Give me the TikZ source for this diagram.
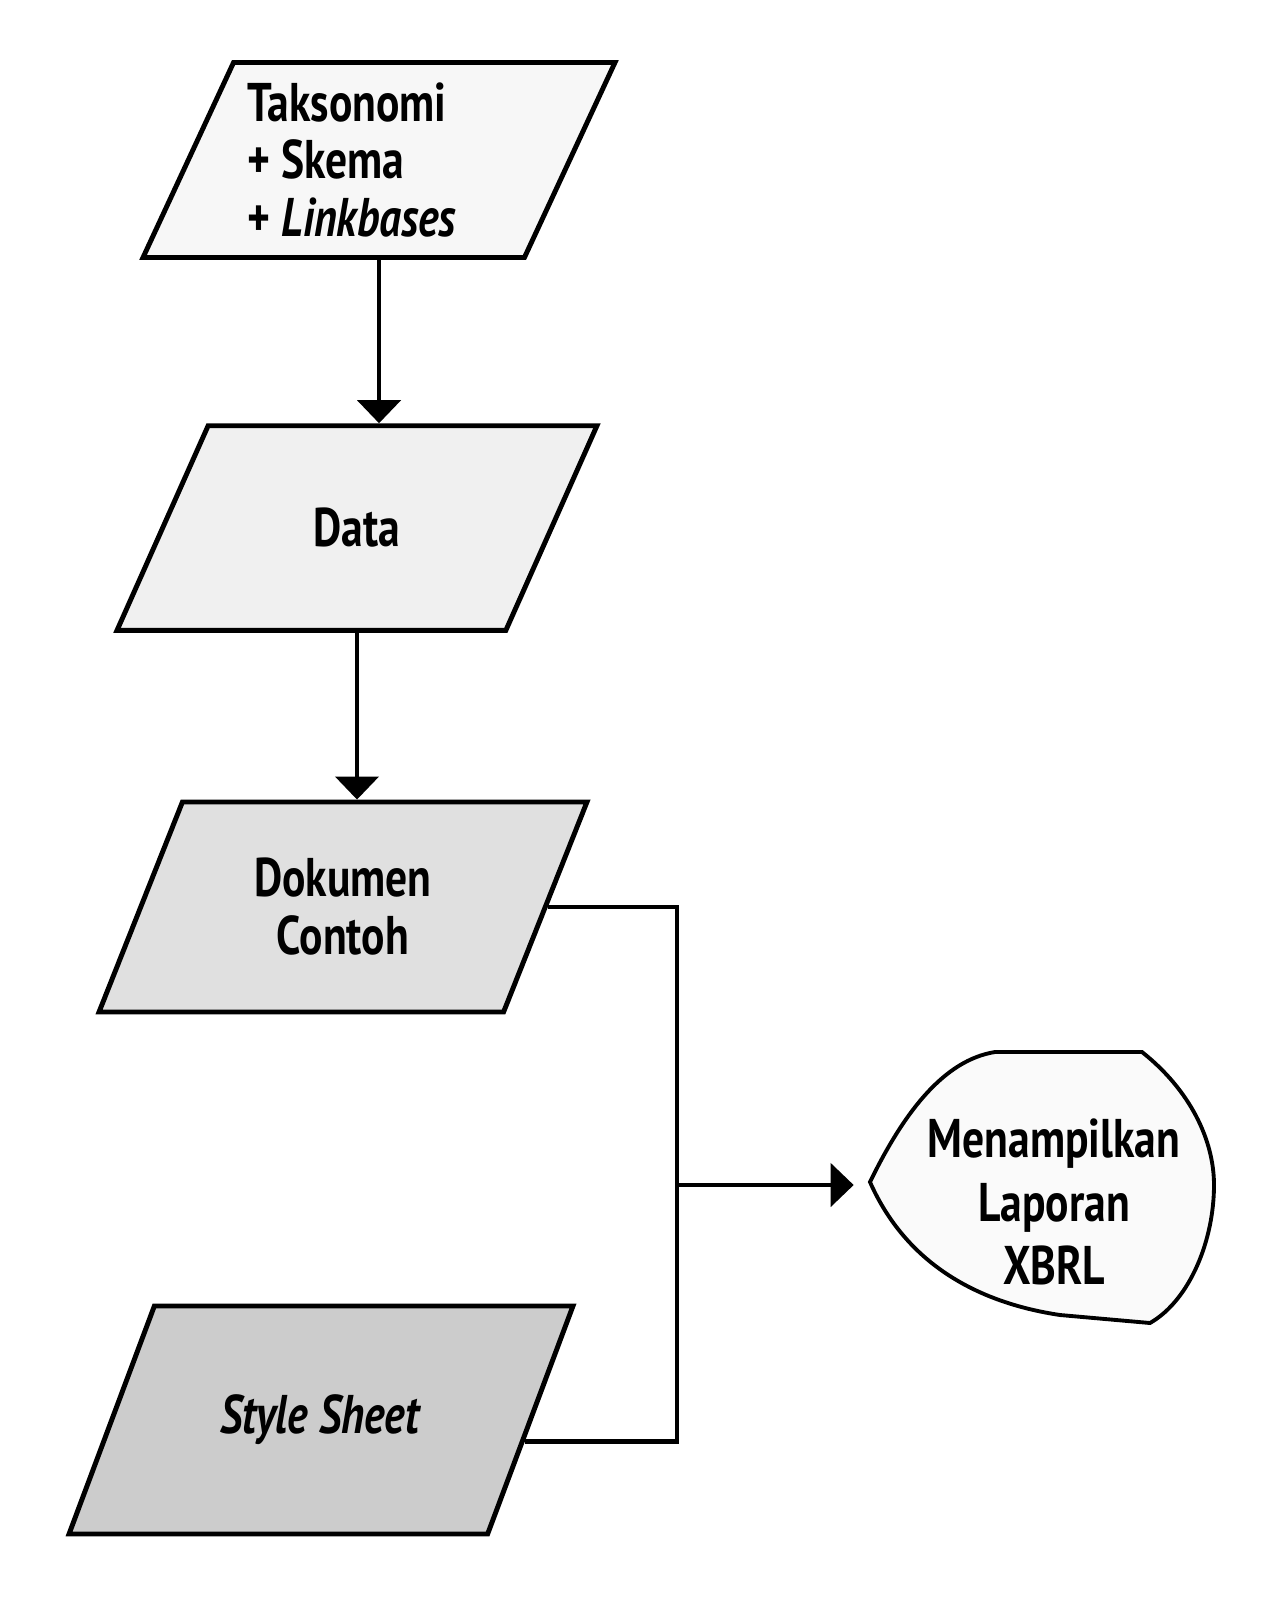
\documentclass[tikz,border=0pt]{standalone}
\usepackage{fontspec}
\newfontfamily\chartfont[FakeStretch=0.8]{PT Sans}
\usetikzlibrary{shapes.geometric, arrows.meta}

\tikzset{
  iobox/.style={trapezium, trapezium left angle=66, trapezium right angle=114,
    trapezium stretches body, draw, line width=2.8pt, inner xsep=0pt,
    align=center, font=\chartfont\bfseries\fontsize{31pt}{33pt}\selectfont},
  link/.style={line width=2.6pt, line join=miter},
}

\begin{document}
\begin{tikzpicture}[x=0.02cm, y=-0.02cm, >={Triangle[width=0.86cm,length=0.46cm]}]
  \useasboundingbox (0,0) rectangle (1269,1600);
  % input boxes (inner ysep sets the height, so the slant stays right)
  \node[iobox, fill=gray!6, minimum width=9.44cm, minimum height=3.9cm, inner ysep=11pt,
    trapezium left angle=65, trapezium right angle=115, align=left]
    (tax) at (379,160) {Taksonomi\\ + Skema\\ + \textit{Linkbases}\hspace*{1.08cm}};
  \node[iobox, fill=gray!12, minimum width=9.6cm, minimum height=4.08cm, inner ysep=47pt]
    (data) at (357,528) {Data};
  \node[iobox, fill=gray!24, minimum width=9.76cm, minimum height=4.2cm, inner ysep=31pt,
    trapezium left angle=68, trapezium right angle=112]
    (doc) at (343,907) {Dokumen\\Contoh};
  \node[iobox, fill=gray!40, minimum width=10.08cm, minimum height=4.56cm, inner ysep=49pt,
    trapezium left angle=69, trapezium right angle=111]
    (style) at (321,1420) {\textit{Style Sheet}};
  % display shape
  \draw[line width=2.2pt, fill=gray!4]
    (870,1182) .. controls (905,1110) and (945,1060) .. (995,1052) -- (1142,1052)
    .. controls (1190,1090) and (1214,1140) .. (1214,1185)
    .. controls (1214,1240) and (1190,1300) .. (1150,1323) -- (1060,1315)
    .. controls (960,1300) and (900,1250) .. (870,1182) -- cycle;
  \node[font=\chartfont\bfseries\fontsize{31pt}{36pt}\selectfont, align=center,
    minimum width=7.28cm, inner sep=0pt] (show) at (1054,1202)
    {Menampilkan\\Laporan\\XBRL};
  % connectors
  \coordinate (join) at (677,1185);
  \draw[link, ->] (tax.south) -- (tax.south |- data.north);
  \draw[link, ->] (data.south) -- (data.south |- doc.north);
  \draw[link] (doc.east) -| (join);
  \draw[link] (style.-6) -| (join);
  \draw[link, ->, shorten >=0.36cm] (join) -- (join -| show.west);
\end{tikzpicture}
\end{document}
